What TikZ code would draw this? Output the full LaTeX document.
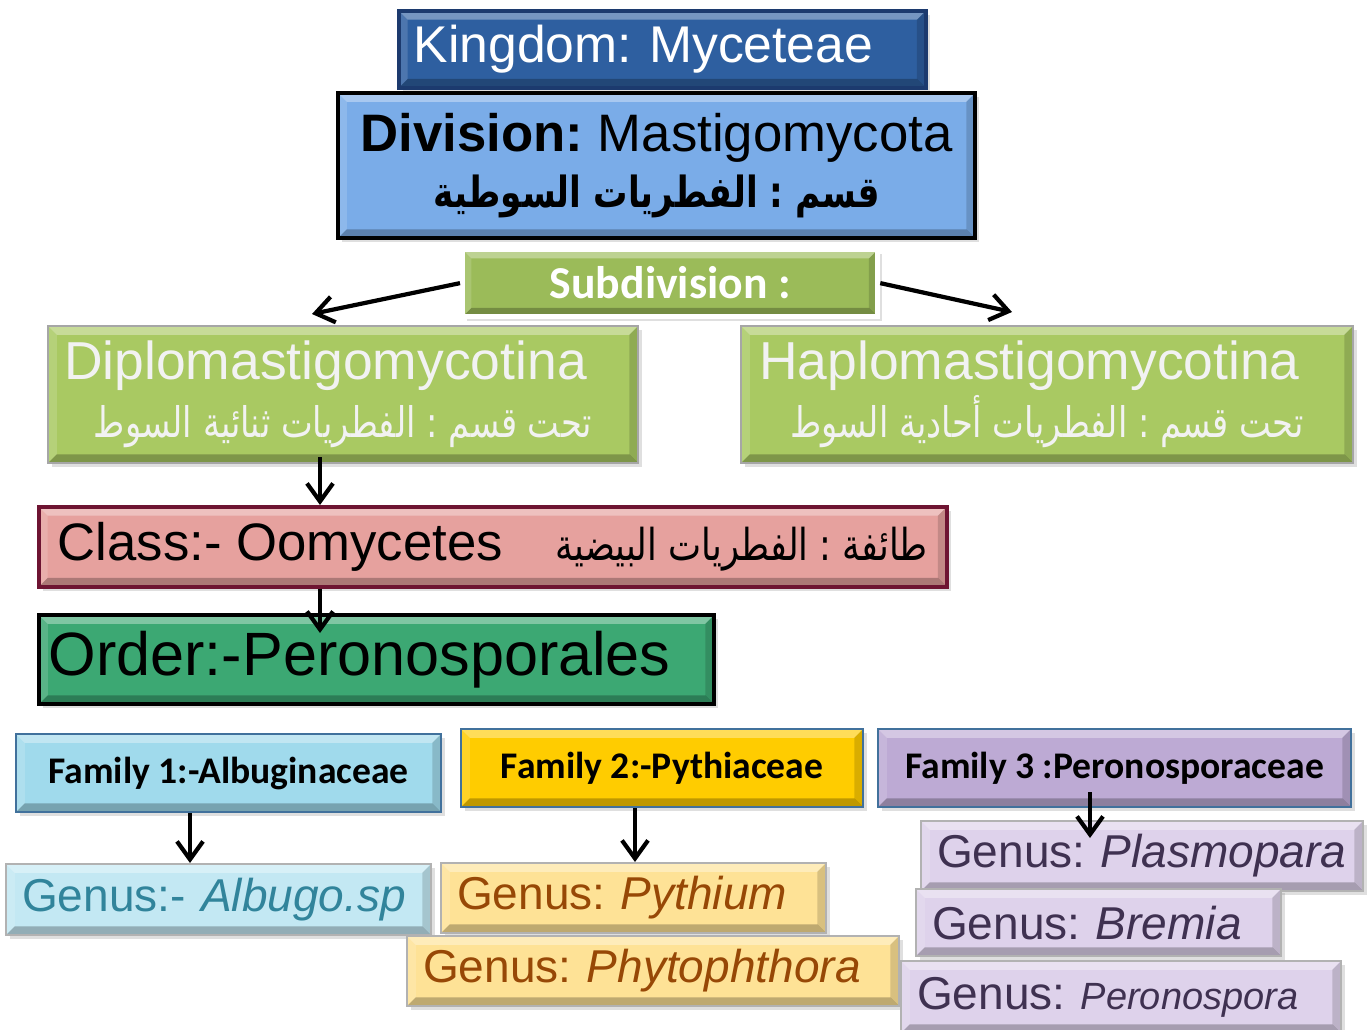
\documentclass[tikz,border=0pt]{standalone}
\usepackage{fontspec}
\setmainfont{Liberation Sans}
\newfontfamily\calibri{Carlito}
\newfontfamily\arabicfont[Script=Arabic,FakeStretch=0.8]{DejaVu Sans}
\TeXXeTstate=1
\frenchspacing
\usepackage{tikz}
\usetikzlibrary{arrows.meta,positioning,shadows}

\definecolor{kingblue}{RGB}{46,95,160}
\definecolor{kingedge}{RGB}{28,58,110}
\definecolor{divblue}{RGB}{122,172,232}
\definecolor{subgreen}{RGB}{155,187,89}
\definecolor{lightgreen}{RGB}{169,201,98}
\definecolor{classpink}{RGB}{230,161,158}
\definecolor{classedge}{RGB}{110,20,50}
\definecolor{ordergreen}{RGB}{60,168,115}
\definecolor{famedge}{RGB}{65,113,156}
\definecolor{famblue}{RGB}{160,218,236}
\definecolor{famgold}{RGB}{255,204,0}
\definecolor{fampurple}{RGB}{189,170,212}
\definecolor{albfill}{RGB}{195,232,243}
\definecolor{albtext}{RGB}{49,132,155}
\definecolor{pytfill}{RGB}{254,226,150}
\definecolor{pyttext}{RGB}{151,72,6}
\definecolor{perfill}{RGB}{222,210,235}
\definecolor{pertext}{RGB}{63,49,81}

\begin{document}
\begin{tikzpicture}[x=0.1mm,y=-0.1mm,
    bevel/.style={path picture={
        \fill[white,opacity=.35] (path picture bounding box.north west) -- (path picture bounding box.north east) -- ++(-2.5pt,-2.5pt) -- ([shift={(2.5pt,-2.5pt)}]path picture bounding box.north west) -- cycle;
        \fill[white,opacity=.15] (path picture bounding box.north west) -- (path picture bounding box.south west) -- ++(2.5pt,2.5pt) -- ([shift={(2.5pt,-2.5pt)}]path picture bounding box.north west) -- cycle;
        \fill[black,opacity=.25] (path picture bounding box.south west) -- (path picture bounding box.south east) -- ++(-2.5pt,2.5pt) -- ([shift={(2.5pt,2.5pt)}]path picture bounding box.south west) -- cycle;
        \fill[black,opacity=.15] (path picture bounding box.north east) -- (path picture bounding box.south east) -- ++(-2.5pt,2.5pt) -- ([shift={(-2.5pt,-2.5pt)}]path picture bounding box.north east) -- cycle;
    }},
    box/.style={rectangle, anchor=north west, inner ysep=0pt, inner xsep=0pt, draw, line width=0.6pt, bevel,
        drop shadow={opacity=.25, shadow xshift=.4mm, shadow yshift=-.4mm}},
    family/.style={box, draw=famedge, align=center, font=\calibri\bfseries\fontsize{10.7}{13}\selectfont},
    genus/.style={box, draw=gray!60, align=left, inner xsep=1.6mm, font=\fontsize{13.1}{15}\selectfont},
    arr/.style={line width=1.2pt, -{Straight Barb[length=1.8mm,width=2.6mm]}}]

    \useasboundingbox (0,0) rectangle (1370,1030);

    % top of the tree
    \node[box, fill=kingblue, draw=kingedge, line width=1pt, minimum width=52.7mm, minimum height=7.7mm,
          inner xsep=1.5mm, text width=49.7mm, align=left, text=white,
          font=\fontsize{14.7}{17}\selectfont] (kingdom) at (397,9) {Kingdom: Myceteae};

    \node[box, fill=divblue, draw=black, line width=1.2pt, minimum width=63.7mm, minimum height=14.5mm,
          align=center, font=\fontsize{15}{16}\selectfont] (division) at (336,91)
          {\textbf{Division:} Mastigomycota\\ {\arabicfont\bfseries\fontsize{12.2}{14}\selectfont\beginR قسم : الفطريات السوطية\endR}};

    \node[box, fill=subgreen, draw=white, line width=1.5pt, minimum width=41.5mm, minimum height=6.7mm,
          text=white, font=\calibri\bfseries\fontsize{13}{15}\selectfont] (subdiv) at (460,247) {Subdivision :};

    % subdivisions
    \node[box, fill=lightgreen, draw=gray!70, minimum width=59mm, minimum height=13.7mm, align=center,
          text=white!95!black, font=\fontsize{15.2}{16.4}\selectfont] (diplo) at (47,325)
          {Diplomastigomycotina\hspace*{3.5mm}\\ {\arabicfont\fontsize{12}{14}\selectfont\beginR تحت قسم : الفطريات ثنائية السوط\endR}};

    \node[box, fill=lightgreen, draw=gray!70, minimum width=61.2mm, minimum height=13.7mm, align=center,
          text=white!95!black, font=\fontsize{15.2}{16.4}\selectfont] (haplo) at (740,325)
          {Haplomastigomycotina\hspace*{3.5mm}\\ {\arabicfont\fontsize{12}{14}\selectfont\beginR تحت قسم : الفطريات أحادية السوط\endR}};

    \node[box, fill=classpink, draw=classedge, line width=1pt, minimum width=90.8mm, minimum height=8mm,
          font=\fontsize{15}{17}\selectfont] (class) at (37,505)
          {Class:- Oomycetes\quad{\arabicfont\fontsize{12.5}{14}\selectfont\beginR طائفة : الفطريات البيضية\endR}};

    \node[box, fill=ordergreen, draw=black, line width=1.2pt, minimum width=67.5mm, minimum height=8.9mm,
          font=\fontsize{17.4}{19}\selectfont] (order) at (37,613) {Order:-Peronosporales\hspace*{3.4mm}};

    % families
    \foreach \n/\x/\y/\w/\c/\t in {fam1/15/733/42.5/famblue/Family 1:-Albuginaceae,
                                   fam2/460/728/40.2/famgold/Family 2:-Pythiaceae,
                                   fam3/877/728/47.3/fampurple/Family 3 :Peronosporaceae}{
        \node[family, fill=\c, minimum width=\w mm, minimum height=7.8mm] (\n) at (\x,\y) {\t};
    }

    % genera
    \node[genus, fill=albfill, text=albtext, text width=39.3mm, minimum height=7.1mm] (albugo) at (5,863)
          {Genus:- \textit{Albugo.sp}};
    \node[genus, fill=pytfill, text=pyttext, text width=35.3mm, minimum height=7mm] (pythium) at (440,862)
          {Genus: \textit{Pythium}};
    \node[genus, fill=pytfill, text=pyttext, text width=46mm, minimum height=7mm] (phyto) at (406,935)
          {Genus: \textit{Phytophthora}};
    \node[genus, fill=perfill, text=pertext, text width=41mm, minimum height=7mm] (plasmo) at (920,820)
          {Genus: \textit{Plasmopara}};
    \node[genus, fill=perfill, text=pertext, text width=33.3mm, minimum height=6.7mm] (bremia) at (915,888)
          {Genus: \textit{Bremia}};
    \node[genus, fill=perfill, text=pertext, text width=40.8mm, minimum height=7.2mm] (perono) at (900,960)
          {Genus: {\fontsize{10.8}{13}\selectfont\textit{Peronospora}}};

    % connectors
    \coordinate (dipin) at (312,314);
    \coordinate (hapin) at (1012,312);
    \coordinate (spine) at (320,0);
    \coordinate (f1x) at (190,0);
    \coordinate (f2x) at (635,0);
    \coordinate (f3x) at (1090,0);

    \draw[arr] (subdiv.west) -- (dipin);
    \draw[arr] (subdiv.east) -- (hapin);
    \draw[arr] ([yshift=.7mm]diplo.south -| spine) -- (class.north -| spine);
    \draw[arr] (class.south -| spine) -- ([yshift=-2mm]order.north -| spine);
    \draw[arr] (fam1.south -| f1x) -- (albugo.north -| f1x);
    \draw[arr] (fam2.south -| f2x) -- (pythium.north -| f2x);
    \draw[arr] ([yshift=1.6mm]fam3.south -| f3x) -- ([yshift=-1.8mm]plasmo.north -| f3x);
\end{tikzpicture}
\end{document}
